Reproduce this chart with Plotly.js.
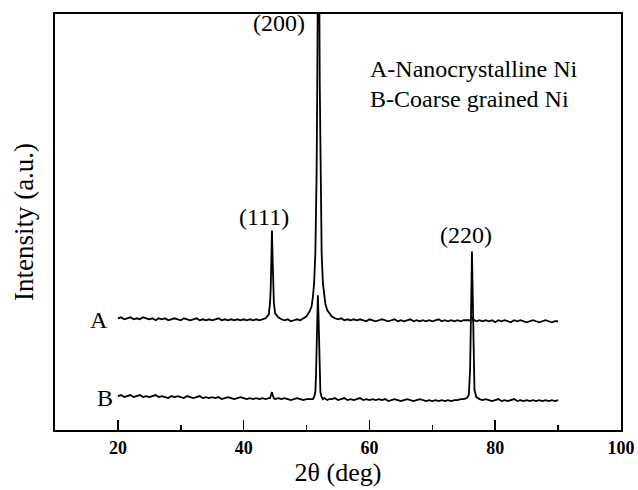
<!DOCTYPE html>
<html>
<head>
<meta charset="utf-8">
<script src="https://cdn.plot.ly/plotly-3.0.1.min.js"></script>
<style>html,body{margin:0;padding:0;background:#fff;}#chart{width:638px;height:490px;}</style>
</head>
<body>
<div id="chart"></div>
<script>
// 2θ grid (deg)
const twoTheta = [
  20,20.5,21,21.5,22,22.5,23,23.5,24,24.5,
  25,25.5,26,26.5,27,27.5,28,28.5,29,29.5,
  30,30.5,31,31.5,32,32.5,33,33.5,34,34.5,
  35,35.5,36,36.5,37,37.5,38,38.5,39,39.5,
  40,40.5,41,41.5,42,42.5,43,43.5,44,
  44.2,44.3,44.4,44.5,44.6,44.7,44.8,45,
  45.5,46,46.5,47,47.5,48,48.5,49,49.5,50,50.5,
  50.8,51,51.2,51.4,51.5,51.6,51.7,51.8,51.9,52,52.1,52.2,52.4,52.6,52.8,53,53.3,53.6,
  54,54.5,55,55.5,56,56.5,57,57.5,58,58.5,
  59,59.5,60,60.5,61,61.5,62,62.5,63,63.5,
  64,64.5,65,65.5,66,66.5,67,67.5,68,68.5,
  69,69.5,70,70.5,71,71.5,72,72.5,73,73.5,
  74,74.5,75,75.5,
  75.8,76,76.1,76.2,76.3,76.4,76.5,76.7,
  77,77.5,78,78.5,79,79.5,80,80.5,81,81.5,
  82,82.5,83,83.5,84,84.5,85,85.5,86,86.5,
  87,87.5,88,88.5,89,89.5,90
];

// A - Nanocrystalline Ni (offset trace, arbitrary units)
const intensityA = [
  112,113,111,112,113,111,112,111,113,112,
  111,112,110,112,111,112,110,111,112,111,
  110,112,111,110,111,112,110,111,110,111,
  110,111,112,110,111,110,111,110,111,110,
  111,110,111,110,111,110,111,112,116,
  128,142,172,200,172,142,128,117,
  113,111,110,111,109,110,111,110,112,114,119,
  124,133,147,177,207,258,346,477,560,477,346,258,177,147,133,126,120,117,
  114,112,111,112,110,111,110,111,110,111,
  110,109,111,110,109,110,111,110,109,110,
  111,109,110,109,110,111,109,110,109,110,
  109,110,109,110,111,109,110,109,110,109,
  110,109,110,110,
  110,110,111,112,113,112,110,110,
  109,110,109,110,109,110,108,110,109,110,
  109,108,110,109,110,109,108,109,110,109,
  108,109,110,109,108,109,109
];

// B - Coarse grained Ni
const intensityB = [
  34,35,33,34,35,33,34,35,33,34,
  33,34,35,33,34,33,32,34,33,34,
  33,32,34,33,32,33,34,32,33,32,
  33,32,33,31,32,33,32,31,32,33,
  32,31,32,31,32,31,32,31,32,
  32,34,36,38,35,33,32,31,
  32,31,32,31,30,31,32,31,30,31,31,
  31,31,33,38,55,85,118,135,115,82,52,38,33,31,32,31,30,31,
  31,32,30,31,32,30,31,30,31,32,
  30,31,30,31,30,31,30,31,29,30,
  31,30,29,30,31,30,29,30,31,30,
  29,30,29,30,29,30,29,30,29,30,
  30,31,31,32,
  35,60,88,135,179,130,88,40,
  33,31,30,31,30,29,30,31,29,30,
  29,30,31,29,30,29,30,29,30,29,
  30,29,30,29,30,29,30
];

const xTickVals = [20, 40, 60, 80, 100];
const xTickText = ['20', '40', '60', '80', '100'];
const peakLabels = ['(111)', '(200)', '(220)'];
const seriesNames = ['A-Nanocrystalline Ni', 'B-Coarse grained Ni'];

const serif = '"Liberation Serif", "Times New Roman", Times, serif';

const traces = [
  {x: twoTheta, y: intensityA, type: 'scatter', mode: 'lines', name: seriesNames[0],
   line: {color: '#000', width: 1.8}},
  {x: twoTheta, y: intensityB, type: 'scatter', mode: 'lines', name: seriesNames[1],
   line: {color: '#000', width: 1.8}}
];

const ann = (text, x, y, xanchor) => ({
  text: text, x: x, y: y, xref: 'x', yref: 'y', showarrow: false,
  xanchor: xanchor || 'center', yanchor: 'middle',
  font: {family: serif, size: 24, color: '#000'}
});

const layout = {
  width: 638, height: 490,
  margin: {l: 55, r: 17, t: 14, b: 60},
  paper_bgcolor: '#fff', plot_bgcolor: '#fff',
  showlegend: false,
  font: {family: serif, color: '#000'},
  xaxis: {
    range: [10, 100],
    showline: true, linecolor: '#000', linewidth: 2, mirror: true,
    ticks: 'inside', ticklen: 10, tickwidth: 1.5, tickcolor: '#000',
    tickvals: xTickVals, ticktext: xTickText,
    tickfont: {family: serif, size: 18, color: '#000', weight: 'bold'},
    minor: {dtick: 10, tick0: 0, ticks: 'inside', ticklen: 5, tickwidth: 1.5, tickcolor: '#000', showgrid: false},
    showgrid: false, zeroline: false,
    title: {text: '2θ (deg)', font: {family: serif, size: 26, color: '#000'}, standoff: 6}
  },
  yaxis: {
    range: [0, 417],
    showline: true, linecolor: '#000', linewidth: 2, mirror: true,
    ticks: '', showticklabels: false, showgrid: false, zeroline: false,
    title: {text: 'Intensity (a.u.)', font: {family: serif, size: 27, color: '#000'}, standoff: 12}
  },
  annotations: [
    ann(peakLabels[0], 43.2, 214),
    ann(peakLabels[1], 45.6, 408),
    ann(peakLabels[2], 75.4, 195),
    ann('A', 17.0, 110),
    ann('B', 17.9, 32),
    ann(seriesNames[0], 59.8, 362, 'left'),
    ann(seriesNames[1], 59.8, 332, 'left')
  ]
};

Plotly.newPlot('chart', traces, layout, {displayModeBar: false, staticPlot: true});
</script>
</body>
</html>
